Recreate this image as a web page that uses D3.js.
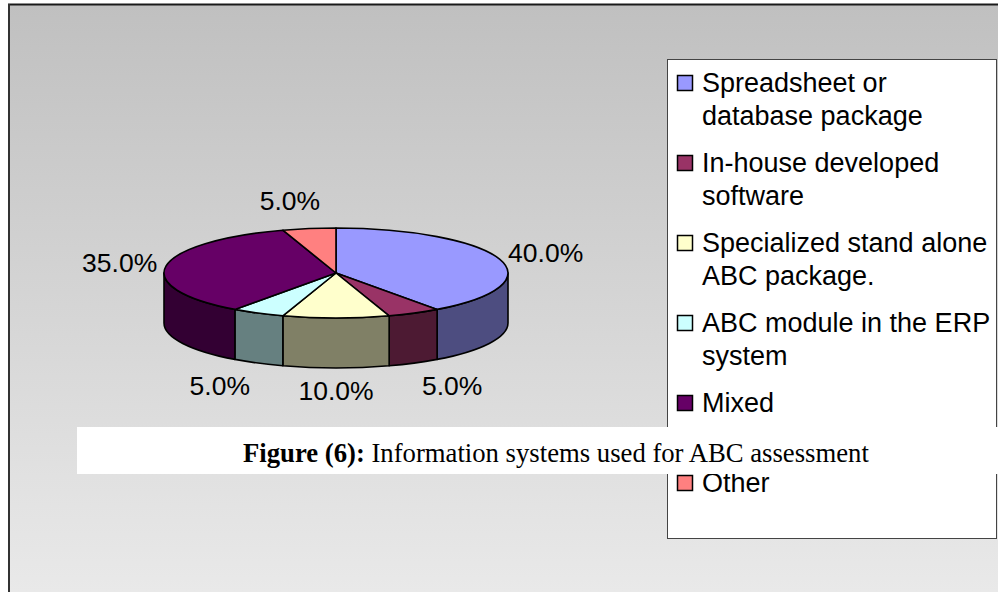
<!DOCTYPE html>
<html>
<head>
<meta charset="utf-8">
<script src="https://cdn.jsdelivr.net/npm/d3@7"></script>
<style>
  body { margin: 0; background: #fff; }
  svg { display: block; }
</style>
</head>
<body>
<svg id="chart"></svg>
<script>
// data
const categories = [
    "Spreadsheet or database package",
    "In-house developed software",
    "Specialized stand alone ABC package.",
    "ABC module in the ERP system",
    "Mixed",
    "Other"
];
const shares = [40, 5, 10, 5, 35, 5];
const topColors = ["#9999ff", "#993366", "#ffffcc", "#ccffff", "#660066", "#ff8080"];
const sideColors = ["#4d4d80", "#4d1a33", "#808066", "#668080", "#330033", "#804040"];
const captionBold = "Figure (6):";
const captionText = " Information systems used for ABC assessment";

const width = 998;
const height = 592;

const svg = d3.select('#chart')
    .attr('width', width)
    .attr('height', height);

// background gradient + frame
const grad = svg.append('defs').append('linearGradient')
    .attr('id', 'bg')
    .attr('x1', 0).attr('y1', 0).attr('x2', 0).attr('y2', 1);
grad.append('stop').attr('offset', 0).attr('stop-color', '#c0c0c0');
grad.append('stop').attr('offset', 1).attr('stop-color', '#e9e9e9');

svg.append('rect')
    .attr('x', 9).attr('y', 5)
    .attr('width', width - 9).attr('height', height - 5)
    .attr('fill', 'url(#bg)');
svg.append('line')
    .attr('x1', 8).attr('x2', width).attr('y1', 4.5).attr('y2', 4.5)
    .attr('stroke', '#1a1a1a').attr('stroke-width', 2);
svg.append('line')
    .attr('x1', 9).attr('x2', 9).attr('y1', 4).attr('y2', height)
    .attr('stroke', '#333').attr('stroke-width', 2);

// 3d pie geometry
const cx = 336, cy = 273, rx = 172, ry = 45, depth = 50;

const color = d3.scaleOrdinal().domain(categories).range(topColors);
const sideColor = d3.scaleOrdinal().domain(categories).range(sideColors);

const arcs = d3.pie().sort(null).value(d => d)(shares)
    .map((a, i) => ({ ...a, name: categories[i] }));

function pt(t, dy = 0) {
    return [cx + rx * Math.sin(t), cy - ry * Math.cos(t) + dy];
}

function topPath(a) {
    const p0 = pt(a.startAngle), p1 = pt(a.endAngle);
    const large = (a.endAngle - a.startAngle) > Math.PI ? 1 : 0;
    return `M${cx},${cy}L${p0}A${rx},${ry} 0 ${large} 1 ${p1}Z`;
}

function sidePath(a) {
    const s = Math.max(a.startAngle, Math.PI / 2);
    const e = Math.min(a.endAngle, Math.PI * 1.5);
    if (e <= s) return null;
    const p0 = pt(s), p1 = pt(e), q1 = pt(e, depth), q0 = pt(s, depth);
    return `M${p0}A${rx},${ry} 0 0 1 ${p1}L${q1}A${rx},${ry} 0 0 0 ${q0}Z`;
}

const pie = svg.append('g').attr('id', 'pie');

pie.selectAll('path.side')
    .data(arcs.filter(a => sidePath(a)))
    .join('path')
    .attr('class', 'side')
    .attr('d', sidePath)
    .attr('fill', d => sideColor(d.name))
    .attr('stroke', '#000')
    .attr('stroke-width', 1.6)
    .attr('stroke-linejoin', 'round');

pie.selectAll('path.top')
    .data(arcs)
    .join('path')
    .attr('class', 'top')
    .attr('d', topPath)
    .attr('fill', d => color(d.name))
    .attr('stroke', '#000')
    .attr('stroke-width', 1.6)
    .attr('stroke-linejoin', 'round');

// percent labels outside the pie, pushed away by half their size
function labelPos(a, w) {
    const t = (a.startAngle + a.endAngle) / 2;
    const c = Math.cos(t), s = Math.sin(t);
    const front = c < 0;
    const x = cx + (rx + (front ? 20 : 9)) * s + (w / 2) * Math.tanh(4.3 * s);
    const y = front
        ? cy + depth - ry * c + 23
        : cy - (ry + 18) * c - 10 * Math.pow(c, 3);
    return [x, y];
}

const total = d3.sum(shares);
svg.append('g')
    .selectAll('text')
    .data(arcs)
    .join('text')
    .attr('text-anchor', 'middle')
    .attr('dominant-baseline', 'central')
    .attr('font-family', 'Liberation Sans, Arial, sans-serif')
    .attr('font-size', 26.5)
    .attr('fill', '#000')
    .text(d => d3.format('.1f')(d.value / total * 100) + '%')
    .each(function (d) {
        const p = labelPos(d, this.getComputedTextLength());
        d3.select(this).attr('x', p[0]).attr('y', p[1]);
    });

// legend
const legendY = d3.scaleBand().domain(categories).range([59, 539]);
const legend = svg.append('g').attr('id', 'legend');

legend.append('rect')
    .attr('x', 667.5).attr('y', 59.5)
    .attr('width', 329).attr('height', 479)
    .attr('fill', '#fff')
    .attr('stroke', '#444')
    .attr('stroke-width', 1);

const items = legend.selectAll('g.item')
    .data(categories)
    .join('g')
    .attr('class', 'item')
    .attr('transform', d => `translate(0,${legendY(d)})`);

items.append('rect')
    .attr('x', 677.5).attr('y', 16.5)
    .attr('width', 15).attr('height', 15)
    .attr('fill', d => color(d))
    .attr('stroke', '#000')
    .attr('stroke-width', 1.5);

const maxLine = 292;
items.each(function (d) {
    const g = d3.select(this);
    const txt = g.append('text')
        .attr('font-family', 'Liberation Sans, Arial, sans-serif')
        .attr('font-size', 27)
        .attr('fill', '#000');
    const words = d.split(' ');
    let line = [];
    let lineNo = 0;
    let tspan = txt.append('tspan').attr('x', 702).attr('y', 33);
    words.forEach(w => {
        line.push(w);
        tspan.text(line.join(' '));
        if (tspan.node().getComputedTextLength() > maxLine && line.length > 1) {
            line.pop();
            tspan.text(line.join(' '));
            line = [w];
            lineNo++;
            tspan = txt.append('tspan').attr('x', 702).attr('y', 33 + lineNo * 33).text(w);
        }
    });
});

// figure caption box
svg.append('rect')
    .attr('x', 77).attr('y', 427)
    .attr('width', width - 77).attr('height', 47)
    .attr('fill', '#fff');

const cap = svg.append('text')
    .attr('x', 243).attr('y', 462)
    .attr('font-family', 'Liberation Serif, Times New Roman, serif')
    .attr('font-size', 26.7)
    .attr('fill', '#000');
cap.append('tspan').attr('font-weight', 'bold').text(captionBold);
cap.append('tspan').text(captionText);
</script>
</body>
</html>
